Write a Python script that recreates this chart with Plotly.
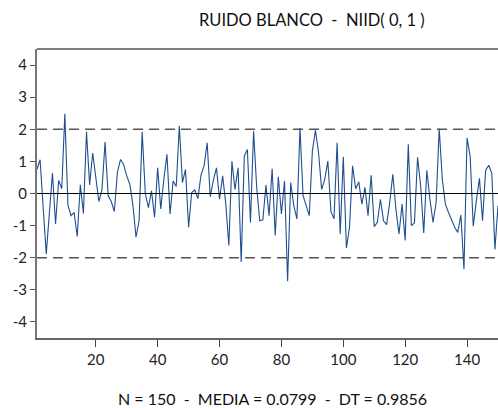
import plotly.graph_objects as go

# White-noise sample, t = 1..150
t = list(range(1, 151))
ruido = [
    0.75, 1.05, -0.45, -1.88, -0.60, 0.64, -0.95, 0.41, 0.15, 2.48,
    -0.36, -0.69, -0.59, -1.34, 0.27, -0.62, 1.92, 0.27, 1.26, 0.50,
    -0.25, 0.12, 1.60, -0.07, -0.25, -0.56, 0.67, 1.06, 0.90, 0.55,
    0.29, -0.36, -1.36, -0.85, 1.92, 0.00, -0.44, 0.08, -0.74, 0.80,
    -0.48, 0.44, 1.22, -0.64, 0.39, 0.22, 2.11, 0.34, 0.75, -1.05,
    0.03, 0.11, -0.16, 0.57, 0.86, 1.58, -0.10, 0.42, 0.80, -0.18,
    0.55, -0.30, -1.62, 1.00, 0.13, 0.80, -2.13, 1.16, 1.37, -0.90,
    1.94, 0.20, -0.85, -0.82, 0.26, -0.69, 0.77, -1.31, 0.52, -0.64,
    0.39, -2.73, 0.34, -0.38, -0.79, 2.04, -0.07, -0.38, -0.69, 1.32,
    1.97, 1.27, 0.13, 0.44, 1.01, -0.56, -0.79, 1.58, -1.26, 1.14,
    -1.70, -1.05, 0.86, 0.15, 0.36, -0.33, 0.19, -0.69, 0.57, -1.03,
    -0.90, -0.18, -0.85, -0.97, -0.28, 0.60, -0.48, -1.26, -0.33, -1.46,
    1.53, -1.00, -0.92, 1.13, 0.24, -1.23, 0.72, -0.18, -0.90, -0.28,
    2.02, 0.44, -0.33, -0.59, -0.85, -1.05, -1.21, -0.67, -2.36, 1.73,
    1.16, -1.02, -0.23, 0.47, -0.85, 0.72, 0.88, 0.63, -1.74, -0.38,
]
bandas = [-2, 2]
y_ticks = [-4, -3, -2, -1, 0, 1, 2, 3, 4]
y_labels = ["-4", "-3", "-2", "-1", "0", "1", "2", "3", "4"]
x_ticks = [20, 40, 60, 80, 100, 120, 140]

NB = "\u00a0"
titulo = f"RUIDO BLANCO{NB*2}-{NB*2}NIID({NB}0,{NB}1{NB})"
pie = f"N{NB}={NB}150{NB*2}-{NB*2}MEDIA{NB}={NB}0.0799{NB*2}-{NB*2}DT{NB}={NB}0.9856"

FONT = "Lato, 'Open Sans', sans-serif"

fig = go.Figure()
fig.add_trace(go.Scatter(
    x=t, y=ruido, mode="lines",
    line=dict(color="#1f4f8f", width=1.1),
    hoverinfo="x+y", showlegend=False,
))

# +/- 2 reference bands and zero line
for b in bandas:
    fig.add_hline(y=b, line=dict(color="#555555", width=1.4, dash="10px,6px"))
fig.add_hline(y=0, line=dict(color="#000000", width=1.2))

# top frame line
fig.add_shape(type="line", xref="paper", yref="paper", x0=0, x1=1, y0=1, y1=1,
              line=dict(color="#000000", width=1.2))

fig.update_xaxes(
    range=[1, 150], tickvals=x_ticks, showgrid=False, zeroline=False,
    showline=True, linecolor="#666666", linewidth=1.5,
    ticks="outside", ticklen=7, tickcolor="#444444",
    tickfont=dict(family=FONT, size=15, color="#222222"),
)
fig.update_yaxes(
    range=[-4.5, 4.5], tickvals=y_ticks, ticktext=y_labels,
    showgrid=False, zeroline=False,
    showline=True, linecolor="#777777", linewidth=2,
    ticks="outside", ticklen=5, tickcolor="#555555",
    tickfont=dict(family=FONT, size=15, color="#222222"),
)

fig.add_annotation(text=titulo, xref="paper", yref="paper", x=0.597, y=1.10,
                   showarrow=False, xanchor="center", yanchor="middle",
                   font=dict(family=FONT, size=16.5, color="#111111"))
fig.add_annotation(text=pie, xref="paper", yref="paper", x=0.51, y=-0.208,
                   showarrow=False, xanchor="center", yanchor="middle",
                   font=dict(family=FONT, size=16, color="#111111"))

fig.update_layout(
    width=498, height=408,
    margin=dict(l=37, r=0, t=49, b=70),
    paper_bgcolor="white", plot_bgcolor="white",
)

fig.write_html("out.html")
